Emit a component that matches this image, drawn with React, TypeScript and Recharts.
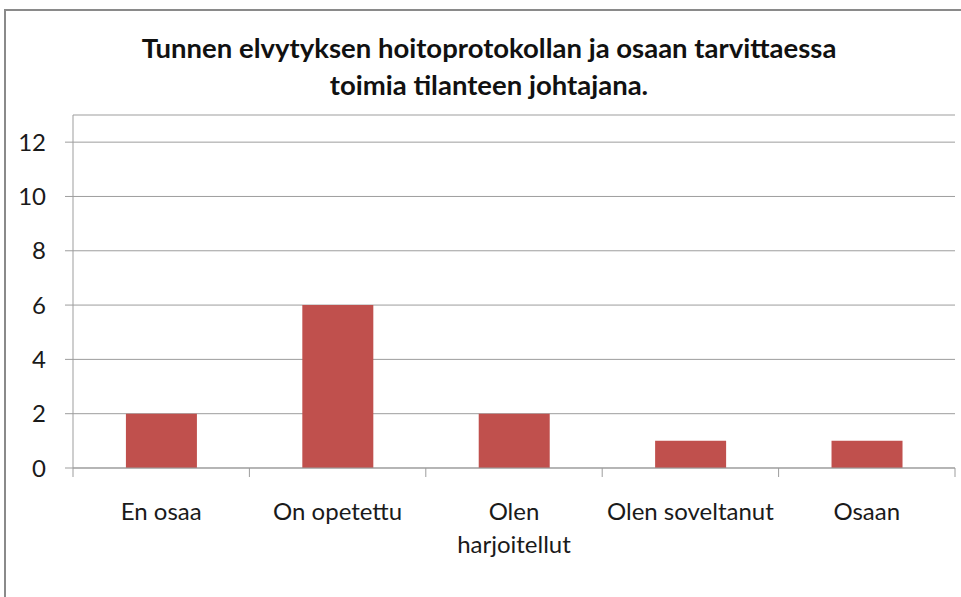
import React from "react";
import { BarChart, Bar, XAxis, YAxis, CartesianGrid } from "recharts";

const categories = ["En osaa", "On opetettu", "Olen harjoitellut", "Olen soveltanut", "Osaan"];
const values = [2, 6, 2, 1, 1];
const yTicks = [0, 2, 4, 6, 8, 10, 12];
const titleLines = [
  "Tunnen elvytyksen hoitoprotokollan ja osaan tarvittaessa",
  "toimia tilanteen johtajana.",
];

const data = categories.map((c, i) => ({ name: c, value: values[i] }));

const FONT = "Lato, 'Open Sans', sans-serif";
const GRAY = "#9d9d9d";

const wrap = (s: string): string[] => {
  if (s.length <= 15) return [s];
  const idx = s.indexOf(" ");
  return idx > 0 ? [s.slice(0, idx), s.slice(idx + 1)] : [s];
};

const XTick = (props: any) => {
  const { x, y, payload, index, visibleTicksCount, width } = props;
  const half =
    payload && payload.offset ? payload.offset : width / visibleTicksCount / 2;
  const lines = wrap(String(payload.value));
  const isLast = index === visibleTicksCount - 1;
  return (
    <g>
      <line x1={x - half} x2={x - half} y1={y} y2={y + 9} stroke={GRAY} strokeWidth={1} />
      {isLast && (
        <line x1={x + half} x2={x + half} y1={y} y2={y + 9} stroke={GRAY} strokeWidth={1} />
      )}
      <text x={x} y={y} textAnchor="middle" fontFamily={FONT} fontSize={24} fill="#1a1a1a">
        {lines.map((l, i) => (
          <tspan key={i} x={x} dy={i === 0 ? 52 : 33}>
            {l}
          </tspan>
        ))}
      </text>
    </g>
  );
};

export default function App() {
  return (
    <div style={{ position: "absolute", left: 0, top: 0, width: 961, height: 597, overflow: "hidden", background: "#fff" }}>
      <div
        style={{
          position: "absolute",
          left: 4,
          top: 9,
          width: 1000,
          height: 1000,
          border: "2px solid #8a8a8a",
          boxSizing: "border-box",
        }}
      />
      <svg width={961} height={120} style={{ position: "absolute", left: 0, top: 0 }}>
        {titleLines.map((l, i) => (
          <text
            key={i}
            x={489}
            y={58 + i * 37}
            textAnchor="middle"
            fontFamily={FONT}
            fontWeight={700}
            fontSize={27.5}
            fill="#111"
          >
            {l}
          </text>
        ))}
      </svg>
      <div style={{ position: "absolute", left: 0, top: 0 }}>
        <BarChart
          width={961}
          height={597}
          data={data}
          margin={{ top: 115, right: 6, bottom: 0, left: 0 }}
          barCategoryGap="30%"
        >
          <CartesianGrid vertical={false} stroke={GRAY} strokeWidth={1} />
          <XAxis
            dataKey="name"
            axisLine={{ stroke: GRAY, strokeWidth: 1 }}
            tickLine={false}
            tickSize={0}
            tickMargin={0}
            tick={<XTick />}
            interval={0}
            height={129}
          />
          <YAxis
            width={73}
            domain={[0, 13]}
            ticks={yTicks}
            allowDataOverflow
            axisLine={{ stroke: GRAY, strokeWidth: 1 }}
            tickLine={{ stroke: GRAY, strokeWidth: 1 }}
            tickSize={8}
            tickMargin={19}
            tick={{ fontFamily: FONT, fontSize: 24, fill: "#1a1a1a" }}
          />
          <Bar dataKey="value" fill="#C0504D" isAnimationActive={false} />
        </BarChart>
      </div>
    </div>
  );
}
